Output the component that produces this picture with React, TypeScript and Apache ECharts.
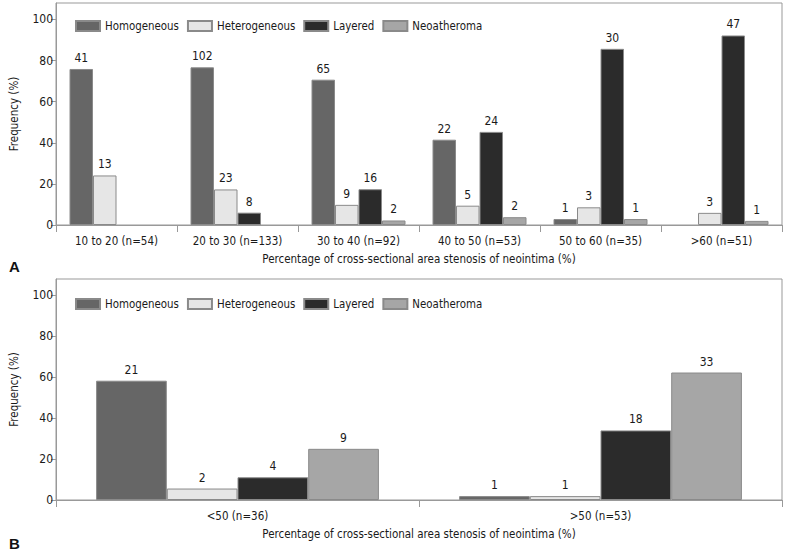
import React, { useEffect, useRef } from "react";
import * as echarts from "echarts";

const seriesNames = ["Homogeneous", "Heterogeneous", "Layered", "Neoatheroma"];
const seriesColors = ["#666666", "#e6e6e6", "#2b2b2b", "#a6a6a6"];

const categoriesA = ["10 to 20 (n=54)", "20 to 30 (n=133)", "30 to 40 (n=92)", "40 to 50 (n=53)", "50 to 60 (n=35)", ">60 (n=51)"];
const homA = [75.9, 76.7, 70.7, 41.5, 2.9, null];
const hetA = [24.1, 17.3, 9.8, 9.4, 8.6, 5.9];
const layA = [null, 6.0, 17.4, 45.3, 85.7, 92.2];
const neoA = [null, null, 2.2, 3.8, 2.9, 2.0];
const homCountA = [41, 102, 65, 22, 1, 0];
const hetCountA = [13, 23, 9, 5, 3, 3];
const layCountA = [0, 8, 16, 24, 30, 47];
const neoCountA = [0, 0, 2, 2, 1, 1];

const categoriesB = ["<50 (n=36)", ">50 (n=53)"];
const homB = [58.3, 1.9];
const hetB = [5.6, 1.9];
const layB = [11.1, 34.0];
const neoB = [25.0, 62.3];
const homCountB = [21, 1];
const hetCountB = [2, 1];
const layCountB = [4, 18];
const neoCountB = [9, 33];

const yTicks = [0, 20, 40, 60, 80, 100];
const xAxisName = "Percentage of cross-sectional area stenosis of neointima (%)";
const yAxisName = "Frequency (%)";

const FONT = "'DejaVu Sans Condensed', 'Liberation Sans Narrow', sans-serif";
const FS = 11.5;
const TXT = "#1a1a1a";
const AX = "#999999";

export default function App() {
  const ref = useRef<HTMLDivElement>(null);
  useEffect(() => {
    if (!ref.current) return;
    const chart = echarts.init(ref.current, null, { renderer: "svg" });

    const valsA = [homA, hetA, layA, neoA];
    const cntA = [homCountA, hetCountA, layCountA, neoCountA];
    const valsB = [homB, hetB, layB, neoB];
    const cntB = [homCountB, hetCountB, layCountB, neoCountB];

    const mkSeries = (vals: any[], cnts: number[][], axis: number, bw: number) =>
      seriesNames.map((name, i) => ({
        type: "bar",
        name,
        xAxisIndex: axis,
        yAxisIndex: axis,
        data: vals[i],
        barWidth: bw,
        barGap: "0%",
        itemStyle: { color: seriesColors[i], borderColor: "#8a8a8a", borderWidth: 1 },
        label: {
          show: true,
          position: "top",
          distance: 5,
          fontFamily: FONT,
          fontSize: 12,
          color: TXT,
          formatter: (p: any) => String(cnts[i][p.dataIndex]),
        },
      }));

    const mkX = (cats: string[], gridIndex: number) => ({
      type: "category",
      gridIndex,
      data: cats,
      boundaryGap: true,
      axisLine: { lineStyle: { color: AX } },
      axisTick: { show: true, length: 7, lineStyle: { color: AX } },
      axisLabel: { fontFamily: FONT, fontSize: FS, color: TXT, margin: 10, interval: 0 },
      name: xAxisName,
      nameLocation: "middle",
      nameGap: 28,
      nameTextStyle: { fontFamily: FONT, fontSize: FS, color: TXT },
    });

    const mkY = (gridIndex: number) => ({
      type: "value",
      gridIndex,
      min: 0,
      max: 108,
      interval: 20,
      axisLine: { show: true, lineStyle: { color: AX } },
      axisTick: { show: true, length: 5, lineStyle: { color: AX }, customValues: yTicks },
      axisLabel: {
        fontFamily: FONT,
        fontSize: 12,
        color: TXT,
        margin: 3,
        customValues: yTicks,
      },
      splitLine: { show: false },
      name: yAxisName,
      nameLocation: "middle",
      nameGap: 36,
      nameRotate: 90,
      nameTextStyle: { fontFamily: FONT, fontSize: FS, color: TXT },
    });

    const mkLegend = (top: number) => ({
      data: seriesNames,
      left: 75,
      top,
      padding: 0,
      itemWidth: 24,
      itemHeight: 10,
      itemGap: 8,
      icon: "rect",
      textStyle: { fontFamily: FONT, fontSize: 11.4, color: TXT },
      selectedMode: false,
    });

    chart.setOption({
      animation: false,
      textStyle: { fontFamily: FONT },
      grid: [
        { left: 50, top: 3, width: 732, height: 222, show: true, borderColor: AX, borderWidth: 1, backgroundColor: "transparent", containLabel: false },
        { left: 50, top: 279, width: 732, height: 221, show: true, borderColor: AX, borderWidth: 1, backgroundColor: "transparent", containLabel: false },
      ],
      legend: [mkLegend(20), mkLegend(298)],
      xAxis: [mkX(categoriesA, 0), mkX(categoriesB, 1)],
      yAxis: [mkY(0), mkY(1)],
      series: [...mkSeries(valsA, cntA, 0, 23.5), ...mkSeries(valsB, cntB, 1, 70.7)],
      graphic: [
        { type: "text", left: 9, top: 259, style: { text: "A", fontFamily: "'Liberation Sans', Arial, sans-serif", fontWeight: "bold", fontSize: 15, fill: "#111" } },
        { type: "text", left: 9, top: 536, style: { text: "B", fontFamily: "'Liberation Sans', Arial, sans-serif", fontWeight: "bold", fontSize: 15, fill: "#111" } },
      ],
    });
    return () => chart.dispose();
  }, []);
  return <div ref={ref} style={{ position: "fixed", left: 0, top: 0, width: 785, height: 551, background: "#fff" }} />;
}
